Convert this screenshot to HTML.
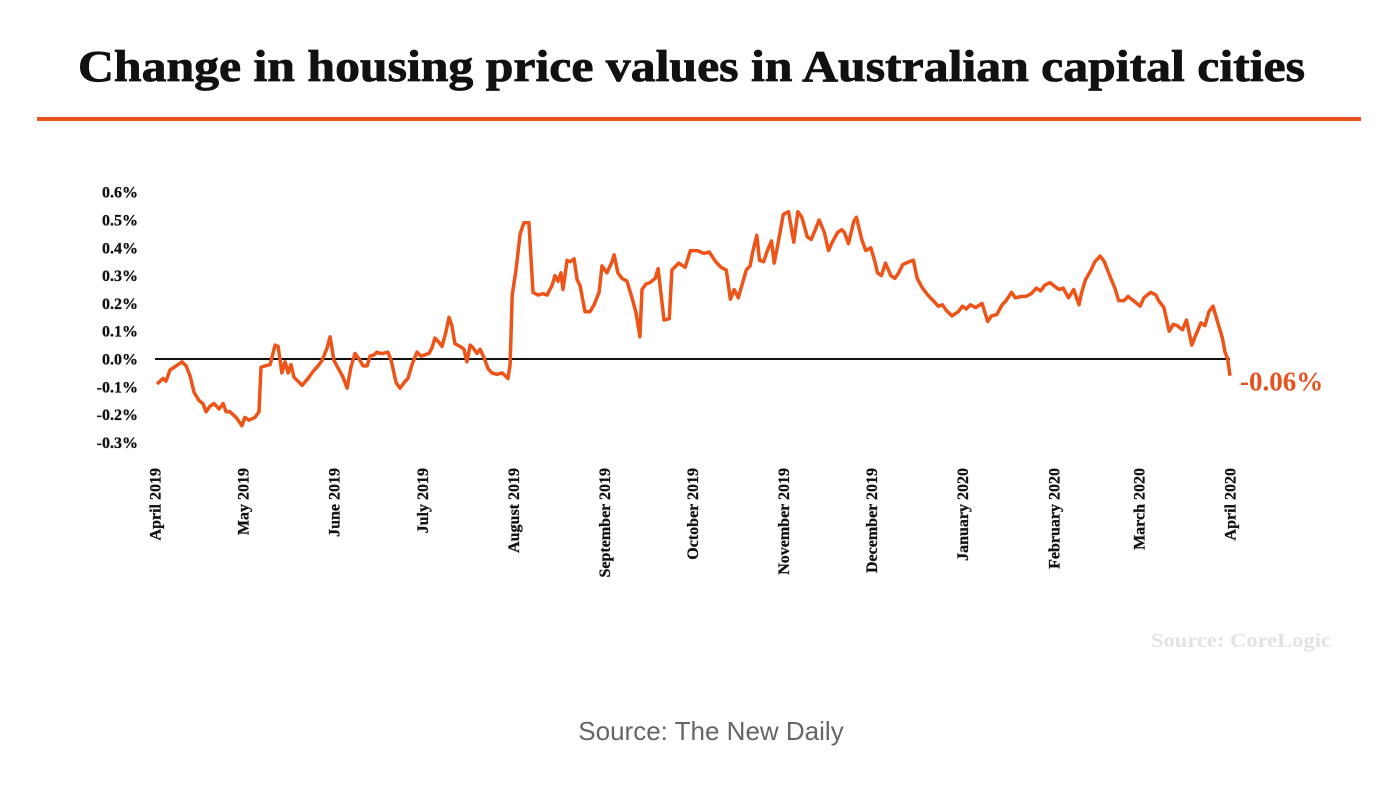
<!DOCTYPE html>
<html><head><meta charset="utf-8"><style>
html,body{margin:0;padding:0;background:#fff;}
svg{display:block;}
</style></head><body>
<svg id="chart" width="1398" height="798" viewBox="0 0 1398 798" xmlns="http://www.w3.org/2000/svg">
<rect width="1398" height="798" fill="#fff"/>
<text x="78" y="81" font-family="Liberation Serif, serif" font-weight="bold" font-size="44" fill="#111" stroke="#111" stroke-width="0.8" textLength="1227" lengthAdjust="spacingAndGlyphs">Change in housing price values in Australian capital cities</text>
<rect x="37" y="117" width="1324" height="4" fill="#e8501e"/>
<g id="yaxis"></g>
<g id="xaxis"></g>
<line id="zero" stroke="#111" stroke-width="2"/>
<path id="series" fill="none" stroke="#ee5318" stroke-width="3.5" stroke-linejoin="round"/>
<text id="endlabel" font-family="Liberation Serif, serif" font-weight="bold" font-size="27" fill="#e8501e"></text>
<text x="1151" y="647" font-family="Liberation Serif, serif" font-weight="bold" font-size="19.5" fill="#e2e2e2" textLength="180" lengthAdjust="spacingAndGlyphs">Source: CoreLogic</text>
<text x="711" y="740" text-anchor="middle" font-family="Liberation Sans, sans-serif" font-size="26" fill="#666">Source: The New Daily</text>
</svg>
<script>
const monthLabels = ["April 2019","May 2019","June 2019","July 2019","August 2019","September 2019","October 2019","November 2019","December 2019","January 2020","February 2020","March 2020","April 2020"];
const monthDays = [0,30,61,91,122,153,183,214,244,275,306,335,366];
const yTicks = [0.6,0.5,0.4,0.3,0.2,0.1,0.0,-0.1,-0.2,-0.3];
const yTickLabels = ["0.6%","0.5%","0.4%","0.3%","0.2%","0.1%","0.0%","-0.1%","-0.2%","-0.3%"];
const days = [0.7,2.7,3.7,5.1,7.2,9.2,10.6,11.9,13.3,15,16.3,17.4,18.7,20.1,21.8,23.2,24.2,25.5,27.6,29.6,30.6,32,34,35.4,36.1,37.5,39.2,40.9,41.9,43.2,44.3,45.3,46.3,47.3,50.1,52.1,53.8,55.5,56.9,58.6,59.6,60.9,62.7,64,65.4,66.7,68.1,69.5,70.8,72.2,73.2,74.6,75.6,76.6,77.6,79.3,80.4,82.1,83.4,84.8,86.1,87.5,89.2,90.6,91.9,93.3,94.3,95.3,96.7,97.7,99.1,100.1,101.1,102.1,103.9,105.2,106.2,107.3,108.3,109.6,110.7,112,113.4,114.7,116.4,118.2,120.2,120.9,121.6,122.9,124.3,125.6,127.3,128.7,130.4,132.1,133.5,135.2,136.2,137.2,138.2,138.9,140.3,141.3,142.7,143.7,144.7,146.4,148.1,149.5,151.2,152.2,153.9,155.6,156.3,157.6,159,160.7,162.4,163.8,165.1,165.8,167.2,168.5,170.3,171.3,173.3,175.1,176,178.3,180.5,182.3,184.6,186.9,188.7,190.9,192.7,194.5,195.9,197.2,198.6,201.3,202.6,203.5,204.9,205.8,207.2,208.5,209.9,210.8,212.1,213.9,215.7,217.5,218.9,220.2,222.1,223.4,224.8,226.1,227.9,229.3,230.6,232.4,233.8,234.7,236.1,237.9,238.8,240.6,242,243.7,245.1,246,247.3,248.7,250.5,251.9,253.2,254.6,256.8,258.2,259.5,261.3,263.1,265.4,266.7,268.1,269.4,271.3,273.5,274.9,276.2,277.6,279.4,281.6,283.5,284.8,286.6,288.4,289.8,291.6,292.9,295.2,296.5,298.3,300.1,301.5,302.9,304.7,306.5,307.8,309.2,311,312.8,314.6,315.5,316.8,318.7,320,321.8,323.2,325.4,326.8,328.1,329.9,331.3,333.1,335.4,336.7,339,340.8,341.7,343.5,345.3,346.7,348,349.8,351.2,353,354.3,356.1,357.5,358.8,360.2,362,363.4,364.3,365.2,366];
const values = [-0.09,-0.07,-0.08,-0.04,-0.025,-0.01,-0.025,-0.06,-0.12,-0.15,-0.16,-0.19,-0.17,-0.16,-0.18,-0.16,-0.19,-0.19,-0.21,-0.24,-0.21,-0.22,-0.21,-0.19,-0.03,-0.025,-0.02,0.05,0.045,-0.05,-0.01,-0.05,-0.02,-0.065,-0.095,-0.07,-0.045,-0.025,-0.005,0.04,0.08,-0.005,-0.04,-0.065,-0.105,-0.03,0.02,0,-0.025,-0.025,0.01,0.015,0.025,0.02,0.02,0.025,-0.005,-0.085,-0.105,-0.085,-0.07,-0.02,0.025,0.01,0.015,0.02,0.04,0.075,0.06,0.045,0.1,0.15,0.12,0.055,0.045,0.035,-0.01,0.05,0.04,0.02,0.035,0.005,-0.035,-0.05,-0.055,-0.05,-0.07,-0.02,0.23,0.32,0.45,0.49,0.49,0.24,0.23,0.235,0.23,0.265,0.3,0.28,0.31,0.25,0.355,0.35,0.36,0.285,0.265,0.17,0.17,0.195,0.24,0.335,0.31,0.35,0.375,0.31,0.29,0.28,0.22,0.165,0.08,0.25,0.27,0.275,0.29,0.325,0.14,0.145,0.32,0.345,0.33,0.39,0.39,0.38,0.385,0.35,0.33,0.32,0.215,0.25,0.22,0.32,0.335,0.385,0.445,0.355,0.35,0.39,0.425,0.345,0.415,0.52,0.53,0.42,0.53,0.51,0.44,0.43,0.465,0.5,0.455,0.39,0.42,0.455,0.465,0.455,0.415,0.495,0.51,0.43,0.39,0.4,0.35,0.31,0.3,0.345,0.3,0.29,0.31,0.34,0.35,0.355,0.29,0.255,0.23,0.205,0.19,0.195,0.175,0.155,0.17,0.19,0.18,0.195,0.185,0.2,0.135,0.155,0.16,0.195,0.21,0.24,0.22,0.225,0.225,0.235,0.255,0.245,0.265,0.275,0.26,0.25,0.255,0.22,0.25,0.195,0.24,0.285,0.32,0.35,0.37,0.35,0.29,0.255,0.21,0.21,0.225,0.21,0.19,0.22,0.24,0.23,0.21,0.185,0.1,0.125,0.12,0.105,0.14,0.05,0.085,0.13,0.12,0.17,0.19,0.125,0.075,0.025,0.0,-0.06];
const endLabel = "-0.06%";

const X0 = 155, X1 = 1230, DAYS = 366;
const xScale = d => X0 + (d / DAYS) * (X1 - X0);
const yScale = v => 359 - v * 278;
const NS = "http://www.w3.org/2000/svg";

const yAxis = document.getElementById('yaxis');
yTicks.forEach((t, i) => {
  const el = document.createElementNS(NS, 'text');
  
  
  el.setAttribute('x', 138);
  el.setAttribute('y', yScale(t) + 5.5);
  el.setAttribute('text-anchor', 'end');
  el.setAttribute('font-family', 'Liberation Serif, serif');
  el.setAttribute('font-weight', 'bold');
  el.setAttribute('font-size', '16');
  el.setAttribute('fill', '#111');
  el.setAttribute('stroke', '#111');
  el.setAttribute('stroke-width', '0.3');
  el.textContent = yTickLabels[i];
  yAxis.appendChild(el);
});

const xAxis = document.getElementById('xaxis');
monthLabels.forEach((m, i) => {
  const x = xScale(monthDays[i]) + 5.5;
  const el = document.createElementNS(NS, 'text');
  
  
  el.setAttribute('transform', `translate(${x},468) rotate(-90)`);
  el.setAttribute('text-anchor', 'end');
  el.setAttribute('font-family', 'Liberation Serif, serif');
  el.setAttribute('font-weight', 'bold');
  el.setAttribute('font-size', '16');
  el.setAttribute('fill', '#111');
  el.setAttribute('stroke', '#111');
  el.setAttribute('stroke-width', '0.3');
  el.textContent = m;
  xAxis.appendChild(el);
});

const zero = document.getElementById('zero');
zero.setAttribute('x1', X0); zero.setAttribute('x2', X1);
zero.setAttribute('y1', yScale(0)); zero.setAttribute('y2', yScale(0));

let d = '';
days.forEach((dy, i) => {
  d += (i ? 'L' : 'M') + xScale(dy).toFixed(1) + ',' + yScale(values[i]).toFixed(1);
});
document.getElementById('series').setAttribute('d', d);

const lbl = document.getElementById('endlabel');
lbl.setAttribute('x', xScale(days[days.length - 1]) + 10);
lbl.setAttribute('y', yScale(values[values.length - 1]) + 15);
lbl.textContent = endLabel;
</script>
</body></html>
